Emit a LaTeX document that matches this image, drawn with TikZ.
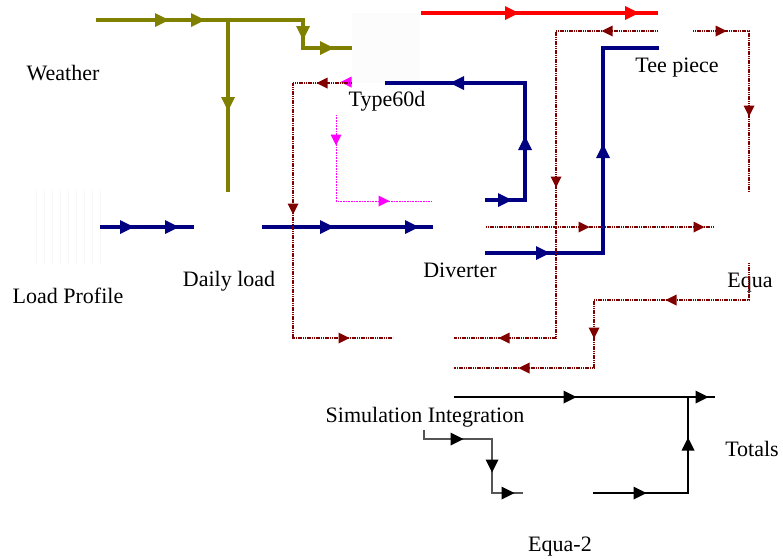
\documentclass[tikz,border=0pt]{standalone}
\usepackage{fontspec}
\setmainfont{Liberation Serif}
\definecolor{olv}{HTML}{808000}
\definecolor{nav}{HTML}{000080}
\definecolor{drd}{HTML}{800000}
\definecolor{rd}{HTML}{FF0000}
\definecolor{mg}{HTML}{FF00FF}
\definecolor{gy}{HTML}{555555}
\newcommand\tip[5]{\fill[#4,shift={(#1,#2)},rotate=#3,scale=#5] (1,0)--(-1,1)--(-1,-1)--cycle;}
\tikzset{
  lbl/.style={font=\fontsize{22}{25}\selectfont, inner sep=0pt, anchor=base},
  olvp/.style={draw=olv, line width=3.3pt},
  navp/.style={draw=nav, line width=3.3pt},
  redp/.style={draw=rd, line width=3.3pt},
  drdp/.style={draw=drd, line width=1.8pt, dash pattern=on 1.2pt off 0.6pt},
  mgp/.style={draw=mg, line width=1pt, dash pattern=on 1pt off 0.6pt},
  blkp/.style={draw=black, line width=1.3pt},
  gyp/.style={draw=gy, line width=1.3pt},
}
\begin{document}
\begin{tikzpicture}[x=1pt,y=-1pt]
\useasboundingbox (0,0) rectangle (783,558);
% faint icons
\fill[black!1] (352,13) rectangle (420,83);
\foreach \i in {36,44,...,100} \draw[black!3, line width=1pt] (\i,190) -- (\i,265);
% labels
\node[lbl] (weather) at (63,80) {Weather};
\node[lbl] (type60d) at (387,106) {Type60d};
\node[lbl] (daily) at (229,286) {Daily load};
\node[lbl] (loadprof) at (68,303) {Load Profile};
\node[lbl] (diverter) at (460,277) {Diverter};
\node[lbl] (tee) at (677,72) {Tee piece};
\node[lbl] (equa) at (750,287) {Equa};
\node[lbl] (simint) at (425,422) {Simulation Integration};
\node[lbl] (totals) at (752,456) {Totals};
\node[lbl] (equa2) at (560,551) {Equa-2};
% ports
\coordinate (wout) at (96,20);
\coordinate (tin) at (352,48);
\coordinate (dlin) at (228,192);
\coordinate (lpout) at (100,227);
\coordinate (dlinb) at (194,227);
\coordinate (dlout) at (262,227);
\coordinate (dvin) at (433,227);
\coordinate (tred) at (421,13);
\coordinate (teered) at (658,13);
\coordinate (dvout1) at (485,200);
\coordinate (tbl) at (385,83);
\coordinate (dvout2) at (485,253);
\coordinate (teein) at (659,48);
\coordinate (tmag) at (336,115);
\coordinate (dvmag) at (432,201);
\coordinate (tdr) at (352,83);
\coordinate (siin1) at (393,338);
\coordinate (teel) at (658,31);
\coordinate (siin2) at (454,338);
\coordinate (teer) at (693,31);
\coordinate (eqin) at (749,192);
\coordinate (dvdr) at (486,227);
\coordinate (eqin2) at (713,227);
\coordinate (eqout) at (749,263);
\coordinate (siin3) at (454,368);
\coordinate (siout) at (454,397);
\coordinate (totin) at (715,397);
\coordinate (e2out) at (593,493);
\coordinate (siout2) at (424,430);
\coordinate (e2in) at (523,493);
% olive
\draw[olvp] (wout) -- (303,20) -- (303,48) -- (tin);
\draw[olvp] (228,20) -- (dlin);
\tip{162}{20}{0}{olv}{7}\tip{198}{20}{0}{olv}{7}
\tip{303}{33}{-90}{olv}{7}\tip{327}{48}{0}{olv}{7}
\tip{228}{104}{-90}{olv}{7}
% red
\draw[redp] (tred) -- (teered);
\tip{512}{13}{0}{rd}{7}\tip{632}{13}{0}{rd}{7}
% navy
\draw[navp] (lpout) -- (dlinb);
\tip{127}{227}{0}{nav}{7}\tip{172}{227}{0}{nav}{7}
\draw[navp] (dlout) -- (dvin);
\tip{327}{227}{0}{nav}{7}\tip{412}{227}{0}{nav}{7}
\draw[navp] (dvout1) -- (525,200) -- (525,83) -- (tbl);
\tip{505}{200}{0}{nav}{7}\tip{525}{143}{90}{nav}{7}\tip{457}{83}{180}{nav}{7}
\draw[navp] (dvout2) -- (603,253) -- (603,48) -- (teein);
\tip{543}{253}{0}{nav}{7}\tip{603}{151}{90}{nav}{7}
% magenta
\draw[mgp] (tmag) -- (336,201) -- (dvmag);
\tip{336}{140}{-90}{mg}{5.5}\tip{384}{201}{0}{mg}{5.5}\tip{346}{82}{180}{mg}{5.5}
% dark red
\draw[drdp] (tdr) -- (293,83) -- (293,338) -- (siin1);
\tip{322}{83}{180}{drd}{5.5}\tip{293}{209}{-90}{drd}{5.5}\tip{344}{338}{0}{drd}{5.5}
\draw[drdp] (teel) -- (556,31) -- (556,338) -- (siin2);
\tip{607}{31}{180}{drd}{5.5}\tip{556}{182}{-90}{drd}{5.5}\tip{504}{338}{180}{drd}{5.5}
\draw[drdp] (teer) -- (749,31) -- (eqin);
\tip{721}{31}{0}{drd}{5.5}\tip{749}{111}{-90}{drd}{5.5}
\draw[drdp] (dvdr) -- (eqin2);
\tip{584}{227}{0}{drd}{5.5}\tip{699}{227}{0}{drd}{5.5}
\draw[drdp] (eqout) -- (749,300) -- (594,300) -- (594,368) -- (siin3);
\tip{671}{300}{180}{drd}{5.5}\tip{594}{333}{-90}{drd}{5.5}\tip{524}{368}{180}{drd}{5.5}
% black
\draw[blkp] (siout) -- (totin);
\tip{570}{397}{0}{black}{6.5}\tip{702}{397}{0}{black}{6.5}
\draw[blkp] (e2out) -- (688,493) -- (688,397);
\tip{640}{493}{0}{black}{6.5}\tip{688}{444}{90}{black}{6.5}
\draw[gyp] (siout2) -- (424,439) -- (492,439) -- (492,493) -- (e2in);
\tip{457}{439}{0}{black}{6.5}\tip{492}{466}{-90}{black}{6.5}\tip{508}{493}{0}{black}{6.5}
\end{tikzpicture}
\end{document}
